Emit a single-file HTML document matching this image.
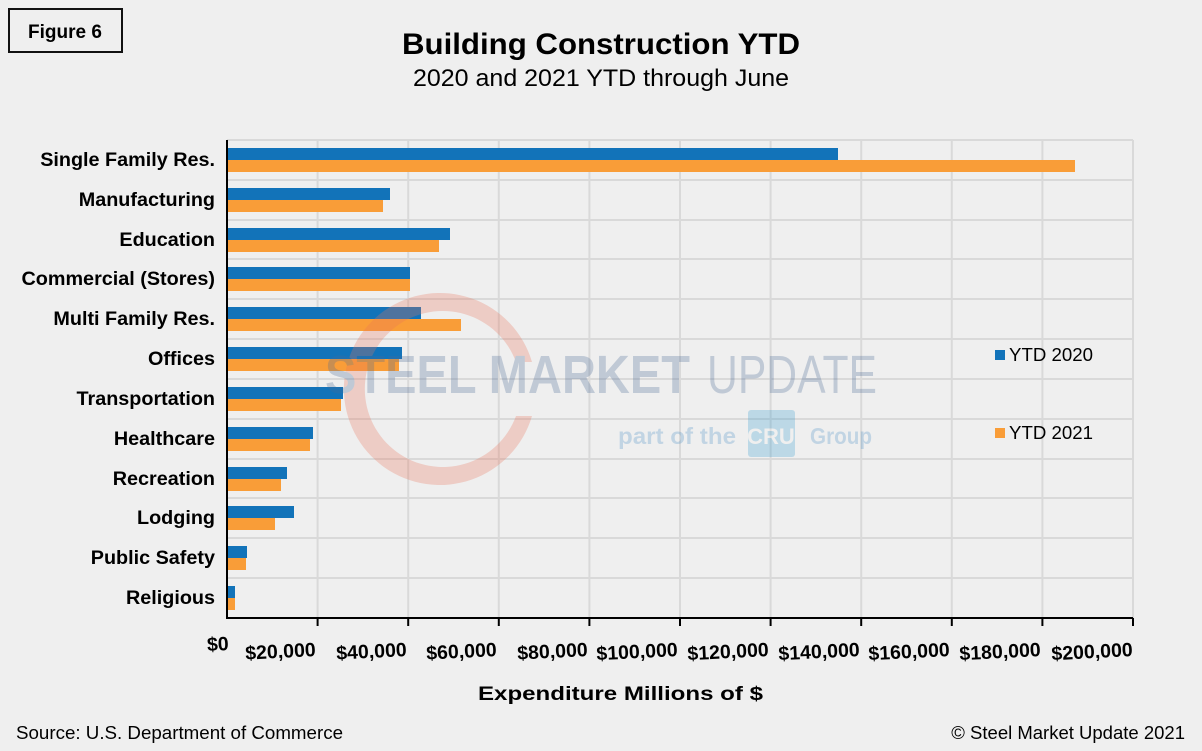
<!DOCTYPE html>
<html><head><style>
body{margin:0;background:#efefef;}
svg{display:block;font-family:"Liberation Sans",Arial,sans-serif;}
</style></head><body>
<svg width="1202" height="751" viewBox="0 0 1202 751">
<rect width="1202" height="751" fill="#efefef"/>
<rect x="9" y="9" width="113" height="43" fill="none" stroke="#111" stroke-width="2"/>
<text x="65" y="38" font-size="19" font-weight="bold" text-anchor="middle">Figure 6</text>
<text x="601" y="54" font-size="30" font-weight="bold" text-anchor="middle" textLength="398" lengthAdjust="spacingAndGlyphs">Building Construction YTD</text>
<text x="601" y="86" font-size="24" text-anchor="middle" textLength="376" lengthAdjust="spacingAndGlyphs">2020 and 2021 YTD through June</text>
<g stroke="#d9d9d9" stroke-width="2">
<line x1="317.6" y1="140" x2="317.6" y2="618"/><line x1="408.2" y1="140" x2="408.2" y2="618"/>
<line x1="498.8" y1="140" x2="498.8" y2="618"/><line x1="589.4" y1="140" x2="589.4" y2="618"/>
<line x1="680" y1="140" x2="680" y2="618"/><line x1="770.6" y1="140" x2="770.6" y2="618"/>
<line x1="861.2" y1="140" x2="861.2" y2="618"/><line x1="951.8" y1="140" x2="951.8" y2="618"/>
<line x1="1042.4" y1="140" x2="1042.4" y2="618"/><line x1="1133" y1="140" x2="1133" y2="618"/>
<line x1="227" y1="140" x2="1133" y2="140"/><line x1="227" y1="180" x2="1133" y2="180"/>
<line x1="227" y1="220" x2="1133" y2="220"/><line x1="227" y1="259" x2="1133" y2="259"/>
<line x1="227" y1="299" x2="1133" y2="299"/><line x1="227" y1="339" x2="1133" y2="339"/>
<line x1="227" y1="379" x2="1133" y2="379"/><line x1="227" y1="419" x2="1133" y2="419"/>
<line x1="227" y1="459" x2="1133" y2="459"/><line x1="227" y1="498" x2="1133" y2="498"/>
<line x1="227" y1="538" x2="1133" y2="538"/><line x1="227" y1="578" x2="1133" y2="578"/>
</g>
<g fill="#1273b9">
<rect x="228" y="148" width="610" height="12"/><rect x="228" y="188" width="162" height="12"/>
<rect x="228" y="228" width="222" height="12"/><rect x="228" y="267" width="182" height="12"/>
<rect x="228" y="307" width="193" height="12"/><rect x="228" y="347" width="174" height="12"/>
<rect x="228" y="387" width="115" height="12"/><rect x="228" y="427" width="85" height="12"/>
<rect x="228" y="467" width="59" height="12"/><rect x="228" y="506" width="66" height="12"/>
<rect x="228" y="546" width="19" height="12"/><rect x="228" y="586" width="7" height="12"/>
</g>
<g fill="#f99d38">
<rect x="228" y="160" width="847" height="12"/><rect x="228" y="200" width="155" height="12"/>
<rect x="228" y="240" width="211" height="12"/><rect x="228" y="279" width="182" height="12"/>
<rect x="228" y="319" width="233" height="12"/><rect x="228" y="359" width="171" height="12"/>
<rect x="228" y="399" width="113" height="12"/><rect x="228" y="439" width="82" height="12"/>
<rect x="228" y="479" width="53" height="12"/><rect x="228" y="518" width="47" height="12"/>
<rect x="228" y="558" width="18" height="12"/><rect x="228" y="598" width="7" height="12"/>
</g>
<!-- watermark -->
<g opacity="0.28">
<path fill-rule="evenodd" d="M 532 362 A 96 96 0 1 0 532 416 L 516 416 A 78 78 0 1 1 516 362 Z" fill="#e8745a"/>
<text x="325" y="393" font-size="54" font-weight="bold" fill="#4a6a96" textLength="365" lengthAdjust="spacingAndGlyphs">STEEL MARKET</text>
<text x="707" y="393" font-size="54" fill="#4a6a96" textLength="170" lengthAdjust="spacingAndGlyphs">UPDATE</text>
<text x="618" y="444" font-size="23" font-weight="bold" fill="#4d8fc7" textLength="118" lengthAdjust="spacingAndGlyphs">part of the</text>
<rect x="748" y="410" width="47" height="47" rx="3" fill="#3a9fd0"/>
<text x="771" y="444" font-size="22" font-weight="bold" fill="#efefef" text-anchor="middle">CRU</text>
<text x="810" y="444" font-size="23" font-weight="bold" fill="#4d8fc7" textLength="62" lengthAdjust="spacingAndGlyphs">Group</text>
</g>
<line x1="227" y1="140" x2="227" y2="619" stroke="#000" stroke-width="2"/>
<line x1="226" y1="618" x2="1133" y2="618" stroke="#000" stroke-width="2"/>
<g stroke="#000" stroke-width="2">
<line x1="317.6" y1="618" x2="317.6" y2="626"/><line x1="408.2" y1="618" x2="408.2" y2="626"/>
<line x1="498.8" y1="618" x2="498.8" y2="626"/><line x1="589.4" y1="618" x2="589.4" y2="626"/>
<line x1="680" y1="618" x2="680" y2="626"/><line x1="770.6" y1="618" x2="770.6" y2="626"/>
<line x1="861.2" y1="618" x2="861.2" y2="626"/><line x1="951.8" y1="618" x2="951.8" y2="626"/>
<line x1="1042.4" y1="618" x2="1042.4" y2="626"/><line x1="1133" y1="618" x2="1133" y2="626"/>
</g>
<g font-size="19.8" font-weight="bold" text-anchor="end">
<text x="215" y="166">Single Family Res.</text><text x="215" y="206">Manufacturing</text>
<text x="215" y="246">Education</text><text x="215" y="285">Commercial (Stores)</text>
<text x="215" y="325">Multi Family Res.</text><text x="215" y="365">Offices</text>
<text x="215" y="405">Transportation</text><text x="215" y="445">Healthcare</text>
<text x="215" y="485">Recreation</text><text x="215" y="524">Lodging</text>
<text x="215" y="564">Public Safety</text><text x="215" y="604">Religious</text>
</g>
<g font-size="19.5" font-weight="bold" text-anchor="end">
<text transform="translate(229,650) rotate(-3)">$0</text>
<text transform="translate(316,656) rotate(-3)">$20,000</text>
<text transform="translate(407,656) rotate(-3)">$40,000</text>
<text transform="translate(497,656) rotate(-3)">$60,000</text>
<text transform="translate(588,656) rotate(-3)">$80,000</text>
<text transform="translate(678,656) rotate(-3)">$100,000</text>
<text transform="translate(769,656) rotate(-3)">$120,000</text>
<text transform="translate(860,656) rotate(-3)">$140,000</text>
<text transform="translate(950,656) rotate(-3)">$160,000</text>
<text transform="translate(1041,656) rotate(-3)">$180,000</text>
<text transform="translate(1133,656) rotate(-3)">$200,000</text>
</g>
<text x="478" y="700" font-size="19.5" font-weight="bold" textLength="285" lengthAdjust="spacingAndGlyphs">Expenditure Millions of $</text>
<rect x="995" y="350" width="10" height="10" fill="#1273b9"/>
<text x="1009" y="361" font-size="18.5" textLength="84" lengthAdjust="spacingAndGlyphs">YTD 2020</text>
<rect x="995" y="428" width="10" height="10" fill="#f99d38"/>
<text x="1009" y="439" font-size="18.5" textLength="84" lengthAdjust="spacingAndGlyphs">YTD 2021</text>
<text x="16" y="739" font-size="18.5" textLength="327" lengthAdjust="spacingAndGlyphs">Source: U.S. Department of Commerce</text>
<text x="1185" y="739" font-size="18.5" text-anchor="end">© Steel Market Update 2021</text>
</svg>
</body></html>
